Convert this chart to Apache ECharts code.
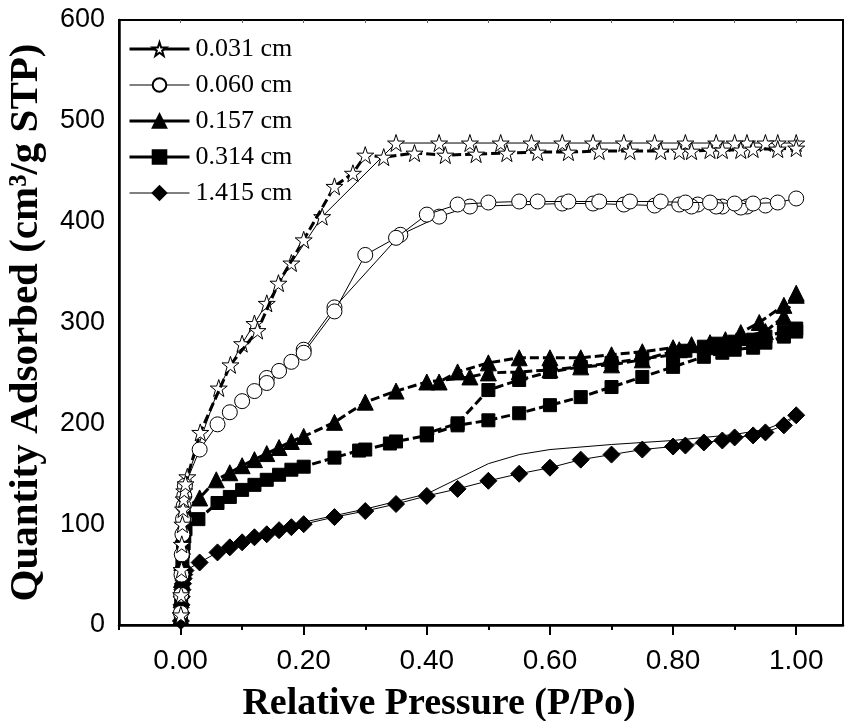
<!DOCTYPE html>
<html>
<head>
<meta charset="utf-8">
<script src="https://cdn.jsdelivr.net/npm/echarts@6/dist/echarts.min.js"></script>
<style>html,body{margin:0;padding:0;background:#fff}#c{width:851px;height:721px}</style>
</head>
<body>
<div id="c"></div>
<script>
// ---- data ----
const seriesNames = ['0.031 cm', '0.060 cm', '0.157 cm', '0.314 cm', '1.415 cm'];
const xTickLabels = [0, 0.2, 0.4, 0.6, 0.8, 1.0];
const xMinorTicks = [-0.1, 0.1, 0.3, 0.5, 0.7, 0.9];
const yTickLabels = [0, 100, 200, 300, 400, 500, 600];

const starAdsX = [0.0005,0.001,0.0015,0.002,0.003,0.004,0.005,0.006,0.008,0.032,0.081,0.125,0.159,0.20,0.25,0.28,0.30,0.33,0.38,0.43,0.48,0.53,0.58,0.63,0.68,0.73,0.78,0.81,0.83,0.86,0.88,0.91,0.93,0.97,1.00];
const starAdsY = [10,30,55,80,100,115,125,133,140,191,258,292,339,382,435,448,466,464,468,466,467,468,469,469,470,470,470,470,470,471,471,471,472,472,473];
const starDesX = [1.00,0.97,0.95,0.92,0.90,0.87,0.82,0.77,0.72,0.67,0.62,0.57,0.52,0.47,0.42,0.35,0.23,0.18,0.14,0.12,0.10,0.062,0.011];
const starDesY = [478,478,478,478,478,478,478,478,478,478,478,478,478,478,478,478,405,359,319,299,279,235,147];

const circAdsX = [0.0005,0.001,0.0015,0.002,0.003,0.004,0.005,0.006,0.007,0.031,0.06,0.08,0.10,0.12,0.14,0.16,0.18,0.20,0.25,0.30,0.35,0.40,0.45,0.50,0.55,0.58,0.63,0.68,0.73,0.78,0.82,0.86,0.90,0.93,0.97,1.00];
const circAdsY = [12,30,50,70,90,105,118,128,138,174,199,211,222,232,240,252,261,270,311,367,384,407,417,419,420,420,420,420,420,420,419,419,418,418,419,423];
const circDesX = [0.95,0.92,0.91,0.88,0.87,0.84,0.83,0.81,0.77,0.72,0.67,0.62,0.47,0.42,0.357,0.25,0.20,0.14];
const circDesY = [416,415,414,415,415,417,415,417,416,417,418,418,415,405,387,315,273,245];

const triAdsX = [0.0005,0.001,0.0015,0.002,0.003,0.004,0.005,0.006,0.008,0.031,0.058,0.08,0.10,0.12,0.14,0.16,0.18,0.20,0.25,0.30,0.35,0.40,0.47,0.50,0.55,0.60,0.65,0.70,0.75,0.81,0.86,0.885,0.91,0.95,0.98,1.00];
const triAdsY = [8,25,45,62,78,90,100,108,115,126,144,151,158,164,170,176,182,187,201,221,232,241,246,250,251,253,256,258,263,273,276,280,285,291,306,327];
const triDesX = [1.00,0.98,0.94,0.91,0.885,0.86,0.83,0.80,0.75,0.70,0.65,0.60,0.55,0.50,0.45,0.42];
const triDesY = [329,317,300,290,283,280,278,275,271,268,265,265,265,260,251,241];

const sqAdsX = [0.0005,0.001,0.0015,0.002,0.003,0.004,0.005,0.006,0.008,0.029,0.06,0.08,0.10,0.12,0.14,0.16,0.18,0.20,0.25,0.29,0.30,0.34,0.35,0.40,0.45,0.50,0.55,0.60,0.65,0.70,0.75,0.80,0.85,0.88,0.90,0.93,0.95,0.98,1.00];
const sqAdsY = [6,20,35,50,63,73,81,88,95,105,121,127,134,139,144,149,154,157,166,173,174,180,182,188,198,203,210,218,226,236,246,256,266,270,273,275,280,286,291];
const sqDesX = [1.00,0.98,0.95,0.93,0.90,0.87,0.85,0.82,0.80,0.75,0.70,0.65,0.60,0.55,0.50,0.45,0.40];
const sqDesY = [294,291,286,283,281,279,276,272,268,264,260,256,251,243,233,200,190];

const diaAdsX = [0.0005,0.001,0.0015,0.002,0.003,0.004,0.005,0.006,0.008,0.031,0.06,0.08,0.10,0.12,0.14,0.16,0.18,0.20,0.25,0.30,0.35,0.40,0.45,0.50,0.55,0.60,0.65,0.70,0.75,0.80,0.82,0.85,0.88,0.90,0.93,0.95,0.98,1.00];
const diaAdsY = [4,12,20,28,35,41,46,50,54,62,72,77,82,87,90,94,97,100,107,113,120,128,135,143,150,156,164,169,174,177,178,181,183,186,188,191,198,208];
const diaDesX = [1.00,0.98,0.95,0.90,0.85,0.80,0.75,0.70,0.60,0.55,0.50,0.45,0.40,0.30,0.20];
const diaDesY = [208,201,194,189,186,183,181,179,174,169,160,145,130,115,102];

// ---- build ----
const zip = (xs, ys) => xs.map((x, i) => [x, ys[i]]);
const STAR = 'path://M50,0 L61.8,35.1 L98.1,35.1 L68.8,56.8 L79.4,91.2 L50,70 L20.6,91.2 L31.2,56.8 L1.9,35.1 L38.2,35.1 Z';

const styles = [
  {symbol: STAR, size: 17, fill: '#fff', adsW: 3, adsType: [9, 4], desW: 1},
  {symbol: 'circle', size: 15, fill: '#fff', adsW: 1, adsType: 'solid', desW: 1},
  {symbol: 'triangle', size: 16, fill: '#000', adsW: 3, adsType: [9, 4], desW: 3},
  {symbol: 'rect', size: 13, fill: '#000', adsW: 3, adsType: [9, 4], desW: 3},
  {symbol: 'diamond', size: 17, fill: '#000', adsW: 1, adsType: 'solid', desW: 1}
];
const ads = [zip(starAdsX, starAdsY), zip(circAdsX, circAdsY), zip(triAdsX, triAdsY), zip(sqAdsX, sqAdsY), zip(diaAdsX, diaAdsY)];
const des = [zip(starDesX, starDesY), zip(circDesX, circDesY), zip(triDesX, triDesY), zip(sqDesX, sqDesY), zip(diaDesX, diaDesY)];

const series = [];
for (let i = seriesNames.length - 1; i >= 0; i--) {
  const s = styles[i];
  series.push({
    name: seriesNames[i] + ' des', type: 'line', data: des[i],
    symbol: i === 4 ? 'none' : s.symbol, symbolSize: s.size, showAllSymbol: true,
    itemStyle: {color: s.fill, borderColor: '#000', borderWidth: 1},
    lineStyle: {color: '#000', width: s.desW, type: i >= 2 && i <= 3 ? [9, 4] : 'solid'},
    animation: false, z: 2
  });
  series.push({
    name: seriesNames[i], type: 'line', data: ads[i],
    symbol: s.symbol, symbolSize: s.size, showAllSymbol: true,
    itemStyle: {color: s.fill, borderColor: '#000', borderWidth: 1},
    lineStyle: {color: '#000', width: s.adsW, type: s.adsType},
    animation: false, z: 3
  });
}

const chart = echarts.init(document.getElementById('c'), null, {renderer: 'canvas'});
chart.setOption({
  backgroundColor: '#fff',
  animation: false,
  grid: {left: 119, right: 8, top: 20, bottom: 96, show: true, borderColor: '#000', borderWidth: 2,
    backgroundColor: 'transparent', containLabel: false, outerBoundsMode: 'none'},
  legend: {
    data: seriesNames.map((n, i) => ({name: n, lineStyle: {type: 'solid', width: styles[i].adsW, color: '#000'}})),
    orient: 'vertical', left: 123, top: 31,
    itemWidth: 60, itemHeight: 17, itemGap: 10,
    textStyle: {fontFamily: 'Liberation Serif, Times New Roman, serif', fontSize: 26, color: '#000', padding: [0, 0, 0, 1]}
  },
  xAxis: [
    {
      type: 'value', min: -0.1, max: 1.076, position: 'bottom',
      name: 'Relative Pressure (P/Po)', nameLocation: 'middle', nameGap: 60,
      nameTextStyle: {fontFamily: 'Liberation Serif, Times New Roman, serif', fontWeight: 'bold', fontSize: 38, color: '#000',
        padding: [0, 84, 0, 0]},
      axisLine: {show: true, onZero: false, lineStyle: {color: '#000', width: 2.5}},
      axisTick: {show: true, customValues: xTickLabels, length: 10, lineStyle: {color: '#000', width: 2}},
      axisLabel: {show: true, customValues: xTickLabels, formatter: v => v.toFixed(2), margin: 22,
        fontFamily: 'Liberation Sans, Arial, sans-serif', fontSize: 28, color: '#000'},
      splitLine: {show: false}
    },
    {
      type: 'value', min: -0.1, max: 1.076, position: 'bottom', gridIndex: 0,
      axisLine: {show: false, onZero: false},
      axisTick: {show: true, customValues: xMinorTicks, length: 5, lineStyle: {color: '#000', width: 2}},
      axisLabel: {show: false}, splitLine: {show: false}
    },
    {
      type: 'value', min: -0.1, max: 1.076, position: 'top', gridIndex: 0,
      axisLine: {show: false, onZero: false},
      axisTick: {show: true, inside: true, customValues: [0, 0.1, 0.2, 0.3, 0.4, 0.5, 0.6, 0.7, 0.8, 0.9, 1.0], length: 3, lineStyle: {color: '#666', width: 1}},
      axisLabel: {show: false}, splitLine: {show: false}
    }
  ],
  yAxis: {
    type: 'value', min: 0, max: 600, interval: 100,
    name: 'Quantity Adsorbed (cm³/g STP)', nameLocation: 'middle', nameGap: 72, nameRotate: 90,
    nameTextStyle: {fontFamily: 'Liberation Serif, Times New Roman, serif', fontWeight: 'bold', fontSize: 41, color: '#000'},
    axisLine: {show: true, onZero: false, lineStyle: {color: '#000', width: 2.5}},
    axisTick: {show: false},
    axisLabel: {show: true, margin: 14, fontFamily: 'Liberation Sans, Arial, sans-serif', fontSize: 27, color: '#000',
      customValues: yTickLabels},
    splitLine: {show: false}
  },
  series: series
});
</script>
</body>
</html>
